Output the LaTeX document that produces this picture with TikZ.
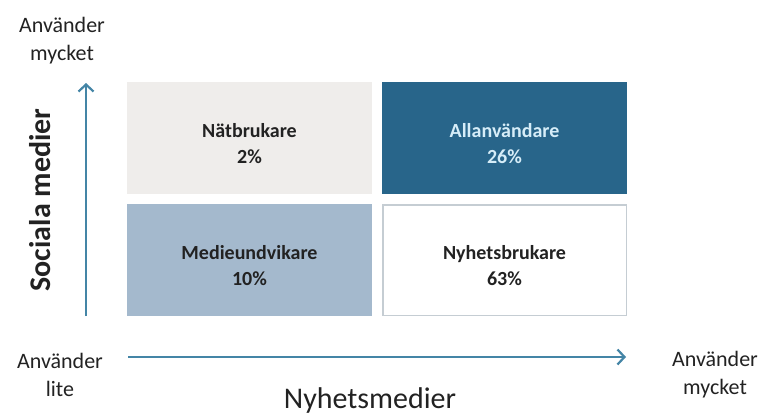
\documentclass[tikz,border=0pt]{standalone}
\usepackage{fontspec}
\setmainfont{Carlito}
\usetikzlibrary{arrows.meta,positioning}
\definecolor{quad-gray}{HTML}{EFEDEB}
\definecolor{quad-dark}{HTML}{28658A}
\definecolor{quad-light}{HTML}{A4B9CD}
\definecolor{quad-edge}{HTML}{C5CDD3}
\definecolor{axis-blue}{HTML}{4485A6}
\definecolor{label-blue}{HTML}{D6EDF8}
\definecolor{label-ink}{HTML}{222222}

\begin{document}
\begin{tikzpicture}[x=1pt, y=-1pt,
    quad/.style={minimum width=245pt, minimum height=112pt, inner sep=0pt},
    quadlab/.style={align=center, yshift=-6pt, font=\fontsize{20}{26}\selectfont\bfseries, text=label-ink},
    axislab/.style={align=center, font=\fontsize{22}{28}\selectfont, text=label-ink},
    axistitle/.style={font=\fontsize{30}{36}\selectfont, text=label-ink},
    axis/.style={draw=axis-blue, line width=2.8pt, -{Straight Barb[length=7pt,width=15pt,line width=2.2pt]}}]
    \useasboundingbox (0,0) rectangle (766,418);

    % the four groups
    \node[quad, fill=quad-gray, label={[quadlab]center:Nätbrukare\\2\%}] (natbrukare) at (249.5, 138) {};
    \node[quad, fill=quad-dark, label={[quadlab, text=label-blue]center:Allanvändare\\26\%}] (allanvandare) at (504.5, 138) {};
    \node[quad, fill=quad-light, label={[quadlab]center:Medieundvikare\\10\%}] (medieundvikare) at (249.5, 260) {};
    \node[quad, fill=white, draw=quad-edge, line width=1.5pt, minimum width=243.5pt, minimum height=110.5pt,
          label={[quadlab]center:Nyhetsbrukare\\63\%}] (nyhetsbrukare) at (504.5, 260) {};

    % axes
    \coordinate (ybot) at (86, 316) ;
    \coordinate (ytop) at (86, 83) ;
    \draw[axis] (ybot) -- (ytop);

    \coordinate (xleft) at (128, 357) ;
    \coordinate (xright) at (626, 357) ;
    \draw[axis] (xleft) -- (xright);

    % axis labels
    \node[axislab] (ymax) at (62, 41) {Använder\\mycket};
    \node[axislab] (xmin) at (60, 375) {Använder\\lite};
    \node[axislab] (xmax) at (715, 375) {Använder\\mycket};
    \node[axistitle] (xtitle) at (370, 400) {Nyhetsmedier};
    \node[axistitle, font=\fontsize{30}{36}\selectfont\bfseries, rotate=90] (ytitle) at (40, 200) {Sociala medier};

\end{tikzpicture}
\end{document}
